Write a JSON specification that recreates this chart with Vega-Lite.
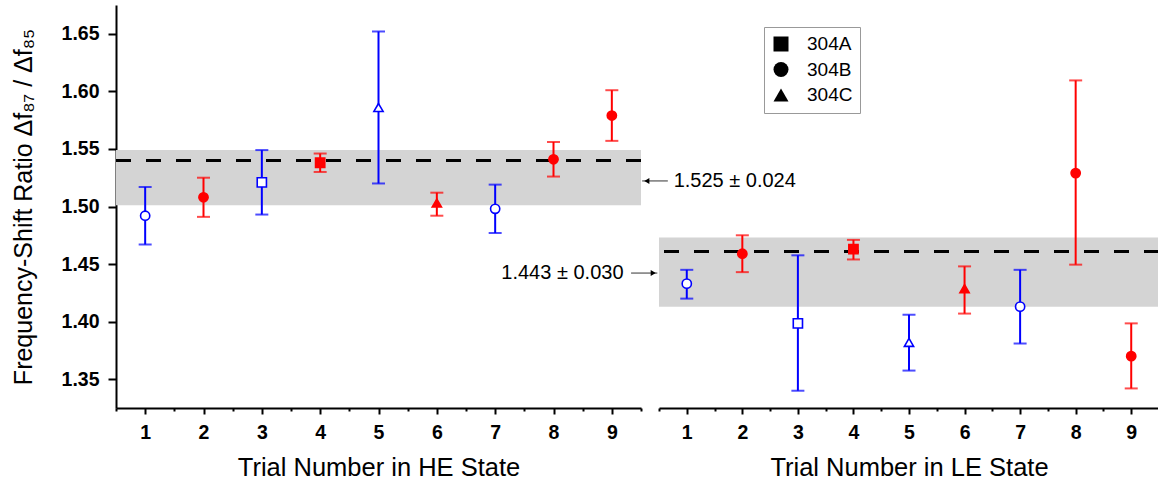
{
  "$schema": "https://vega.github.io/schema/vega-lite/v6.json",
  "padding": {"left": 11, "top": 5, "right": 0, "bottom": 0},
  "autosize": {"type": "pad"},
  "background": "white",
  "config": {
    "view": {"stroke": null},
    "font": "Liberation Sans",
    "axis": {
      "grid": false,
      "domainColor": "black",
      "domainWidth": 2,
      "tickColor": "black",
      "tickWidth": 2,
      "labelColor": "black",
      "labelFont": "Liberation Sans",
      "labelFontWeight": "bold",
      "labelFontSize": 19.5,
      "labelOverlap": false,
      "labelFlush": false,
      "titleColor": "black",
      "titleFont": "Liberation Sans",
      "titleFontWeight": "normal"
    }
  },
  "datasets": {
    "trials": [
      {"state": "HE", "trial": 1, "ratio": 1.492, "lo": 1.467, "hi": 1.517, "sample": "304B", "group": "G1"},
      {"state": "HE", "trial": 2, "ratio": 1.508, "lo": 1.491, "hi": 1.525, "sample": "304B", "group": "G2"},
      {"state": "HE", "trial": 3, "ratio": 1.521, "lo": 1.493, "hi": 1.549, "sample": "304A", "group": "G1"},
      {"state": "HE", "trial": 4, "ratio": 1.538, "lo": 1.530, "hi": 1.546, "sample": "304A", "group": "G2"},
      {"state": "HE", "trial": 5, "ratio": 1.586, "lo": 1.520, "hi": 1.652, "sample": "304C", "group": "G1"},
      {"state": "HE", "trial": 6, "ratio": 1.503, "lo": 1.492, "hi": 1.512, "sample": "304C", "group": "G2"},
      {"state": "HE", "trial": 7, "ratio": 1.498, "lo": 1.477, "hi": 1.519, "sample": "304B", "group": "G1"},
      {"state": "HE", "trial": 8, "ratio": 1.541, "lo": 1.526, "hi": 1.556, "sample": "304B", "group": "G2"},
      {"state": "HE", "trial": 9, "ratio": 1.579, "lo": 1.557, "hi": 1.601, "sample": "304B", "group": "G2"},
      {"state": "LE", "trial": 1, "ratio": 1.433, "lo": 1.420, "hi": 1.445, "sample": "304B", "group": "G1"},
      {"state": "LE", "trial": 2, "ratio": 1.459, "lo": 1.443, "hi": 1.475, "sample": "304B", "group": "G2"},
      {"state": "LE", "trial": 3, "ratio": 1.3985, "lo": 1.340, "hi": 1.4576, "sample": "304A", "group": "G1"},
      {"state": "LE", "trial": 4, "ratio": 1.463, "lo": 1.454, "hi": 1.471, "sample": "304A", "group": "G2"},
      {"state": "LE", "trial": 5, "ratio": 1.382, "lo": 1.3575, "hi": 1.406, "sample": "304C", "group": "G1"},
      {"state": "LE", "trial": 6, "ratio": 1.4286, "lo": 1.407, "hi": 1.448, "sample": "304C", "group": "G2"},
      {"state": "LE", "trial": 7, "ratio": 1.413, "lo": 1.381, "hi": 1.445, "sample": "304B", "group": "G1"},
      {"state": "LE", "trial": 8, "ratio": 1.529, "lo": 1.4495, "hi": 1.6095, "sample": "304B", "group": "G2"},
      {"state": "LE", "trial": 9, "ratio": 1.370, "lo": 1.342, "hi": 1.3985, "sample": "304B", "group": "G2"}
    ],
    "bands": [
      {"state": "HE", "lo": 1.501, "hi": 1.549, "ref": 1.540, "label": "1.525 ± 0.024"},
      {"state": "LE", "lo": 1.413, "hi": 1.473, "ref": 1.461, "label": "1.443 ± 0.030"}
    ]
  },
  "bounds": "flush",
  "spacing": 18,
  "resolve": {
    "scale": {"x": "independent", "y": "independent", "color": "independent", "fill": "independent", "stroke": "independent", "shape": "independent"},
    "legend": {"shape": "independent"}
  },
  "hconcat": [
    {
      "width": 525,
      "height": 403,
      "layer": [
        {
          "data": {"name": "bands"},
          "transform": [{"filter": "datum.state === 'HE'"}],
          "mark": {"type": "rect", "color": "#d4d4d4"},
          "encoding": {
            "y": {
              "field": "lo", "type": "quantitative",
              "scale": {"domain": [1.325, 1.675], "nice": false, "zero": false},
              "axis": {
                "values": [1.35, 1.375, 1.4, 1.425, 1.45, 1.475, 1.5, 1.525, 1.55, 1.575, 1.6, 1.625, 1.65],
                "labelExpr": "round(datum.value*1000) % 50 == 0 ? format(datum.value, '.2f') : ''",
                "tickSize": {"condition": {"test": "round(datum.value*1000) % 50 == 0", "value": 8}, "value": 4},
                "labelOverlap": false,
                "labelPadding": 9,
                "title": "Frequency-Shift Ratio  Δf₈₇ / Δf₈₅",
                "titleFontSize": 25,
                "titlePadding": 25
              }
            },
            "y2": {"field": "hi"}
          }
        },
        {
          "data": {"name": "bands"},
          "transform": [{"filter": "datum.state === 'HE'"}],
          "mark": {"type": "rule", "color": "black", "strokeWidth": 3, "strokeDash": [15, 15]},
          "encoding": {"y": {"field": "ref", "type": "quantitative"}}
        },
        {
          "data": {"name": "trials"},
          "transform": [{"filter": "datum.state === 'HE'"}],
          "encoding": {
            "x": {
              "field": "trial", "type": "quantitative",
              "scale": {"domain": [0.5, 9.5], "nice": false, "zero": false},
              "axis": {
                "values": [0.5, 1, 1.5, 2, 2.5, 3, 3.5, 4, 4.5, 5, 5.5, 6, 6.5, 7, 7.5, 8, 8.5, 9, 9.5],
                "labelExpr": "round(datum.value*10) % 10 == 0 ? format(datum.value, 'd') : ''",
                "tickSize": {"condition": {"test": "round(datum.value*10) % 10 == 0", "value": 6}, "value": 3},
                "labelOverlap": false,
                "labelFlush": false,
                "labelPadding": 9,
                "title": "Trial Number in HE State",
                "titleFontSize": 25.5,
                "titlePadding": 14
              }
            },
            "color": {"field": "group", "type": "nominal", "scale": {"domain": ["G1", "G2"], "range": ["#0000ff", "#ff0000"]}, "legend": null}
          },
          "layer": [
            {
              "mark": {"type": "rule", "strokeWidth": 2},
              "encoding": {
                "y": {"field": "lo", "type": "quantitative"},
                "y2": {"field": "hi"}
              }
            },
            {
              "mark": {"type": "tick", "orient": "horizontal", "size": 13, "thickness": 2},
              "encoding": {"y": {"field": "lo", "type": "quantitative"}}
            },
            {
              "mark": {"type": "tick", "orient": "horizontal", "size": 13, "thickness": 2},
              "encoding": {"y": {"field": "hi", "type": "quantitative"}}
            },
            {
              "mark": {"type": "point", "filled": true, "strokeWidth": 1.6, "opacity": 1, "size": 85},
              "encoding": {
                "y": {"field": "ratio", "type": "quantitative"},
                "shape": {"field": "sample", "type": "nominal", "scale": {"domain": ["304A", "304B", "304C"], "range": ["square", "circle", "triangle-up"]}, "legend": null},
                "fill": {"field": "group", "type": "nominal", "scale": {"domain": ["G1", "G2"], "range": ["#ffffff", "#ff0000"]}, "legend": null},
                "stroke": {"field": "group", "type": "nominal", "scale": {"domain": ["G1", "G2"], "range": ["#0000ff", "#ff0000"]}, "legend": null}
              }
            }
          ]
        },
        {
          "data": {"name": "bands"},
          "encoding": {
            "x": {
              "datum": 9.5, "type": "quantitative",
              "axis": {
                "values": [0.5, 1, 1.5, 2, 2.5, 3, 3.5, 4, 4.5, 5, 5.5, 6, 6.5, 7, 7.5, 8, 8.5, 9, 9.5],
                "labelExpr": "round(datum.value*10) % 10 == 0 ? format(datum.value, 'd') : ''",
                "tickSize": {"condition": {"test": "round(datum.value*10) % 10 == 0", "value": 6}, "value": 3},
                "labelOverlap": false,
                "labelFlush": false,
                "labelPadding": 9,
                "title": "Trial Number in HE State",
                "titleFontSize": 25.5,
                "titlePadding": 14
              }
            }
          },
          "layer": [
            {
              "transform": [{"filter": "datum.state === 'HE'"}],
              "mark": {"type": "rule", "color": "#333333", "strokeWidth": 1},
              "encoding": {"x": {"datum": 9.52}, "x2": {"datum": 9.96}, "y": {"datum": 1.5222, "type": "quantitative"}}
            },
            {
              "transform": [{"filter": "datum.state === 'HE'"}],
              "mark": {"type": "point", "shape": "triangle-left", "filled": true, "color": "black", "size": 35, "opacity": 1},
              "encoding": {"x": {"datum": 9.6}, "y": {"datum": 1.5222, "type": "quantitative"}}
            },
            {
              "transform": [{"filter": "datum.state === 'HE'"}],
              "mark": {"type": "text", "align": "left", "baseline": "middle", "fontSize": 20, "font": "Liberation Sans", "color": "black"},
              "encoding": {"x": {"datum": 10.06}, "y": {"datum": 1.5222, "type": "quantitative"}, "text": {"field": "label"}}
            },
            {
              "transform": [{"filter": "datum.state === 'LE'"}],
              "mark": {"type": "rule", "color": "#333333", "strokeWidth": 1},
              "encoding": {"x": {"datum": 9.33}, "x2": {"datum": 9.78}, "y": {"datum": 1.4422, "type": "quantitative"}}
            },
            {
              "transform": [{"filter": "datum.state === 'LE'"}],
              "mark": {"type": "point", "shape": "triangle-right", "filled": true, "color": "black", "size": 35, "opacity": 1},
              "encoding": {"x": {"datum": 9.71}, "y": {"datum": 1.4422, "type": "quantitative"}}
            },
            {
              "transform": [{"filter": "datum.state === 'LE'"}],
              "mark": {"type": "text", "align": "right", "baseline": "middle", "fontSize": 20, "font": "Liberation Sans", "color": "black"},
              "encoding": {"x": {"datum": 9.2}, "y": {"datum": 1.4426, "type": "quantitative"}, "text": {"field": "label"}}
            }
          ]
        }
      ]
    },
    {
      "width": 500,
      "height": 403,
      "layer": [
        {
          "data": {"name": "bands"},
          "transform": [{"filter": "datum.state === 'LE'"}],
          "mark": {"type": "rect", "color": "#d4d4d4"},
          "encoding": {
            "y": {"field": "lo", "type": "quantitative", "scale": {"domain": [1.325, 1.675], "nice": false, "zero": false}, "axis": null},
            "y2": {"field": "hi"}
          }
        },
        {
          "data": {"name": "bands"},
          "transform": [{"filter": "datum.state === 'LE'"}],
          "mark": {"type": "rule", "color": "black", "strokeWidth": 3, "strokeDash": [15, 15]},
          "encoding": {"y": {"field": "ref", "type": "quantitative", "axis": null}}
        },
        {
          "data": {"name": "trials"},
          "transform": [{"filter": "datum.state === 'LE'"}],
          "encoding": {
            "x": {
              "field": "trial", "type": "quantitative",
              "scale": {"domain": [0.5, 9.5], "nice": false, "zero": false},
              "axis": {
                "values": [0.5, 1, 1.5, 2, 2.5, 3, 3.5, 4, 4.5, 5, 5.5, 6, 6.5, 7, 7.5, 8, 8.5, 9, 9.5],
                "labelExpr": "round(datum.value*10) % 10 == 0 ? format(datum.value, 'd') : ''",
                "tickSize": {"condition": {"test": "round(datum.value*10) % 10 == 0", "value": 6}, "value": 3},
                "labelOverlap": false,
                "labelFlush": false,
                "labelPadding": 9,
                "title": "Trial Number in LE State",
                "titleFontSize": 25.5,
                "titlePadding": 14
              }
            },
            "color": {"field": "group", "type": "nominal", "scale": {"domain": ["G1", "G2"], "range": ["#0000ff", "#ff0000"]}, "legend": null}
          },
          "layer": [
            {
              "mark": {"type": "rule", "strokeWidth": 2},
              "encoding": {
                "y": {"field": "lo", "type": "quantitative", "axis": null},
                "y2": {"field": "hi"}
              }
            },
            {
              "mark": {"type": "tick", "orient": "horizontal", "size": 13, "thickness": 2},
              "encoding": {"y": {"field": "lo", "type": "quantitative", "axis": null}}
            },
            {
              "mark": {"type": "tick", "orient": "horizontal", "size": 13, "thickness": 2},
              "encoding": {"y": {"field": "hi", "type": "quantitative", "axis": null}}
            },
            {
              "mark": {"type": "point", "filled": true, "strokeWidth": 1.6, "opacity": 1, "size": 85},
              "encoding": {
                "y": {"field": "ratio", "type": "quantitative", "axis": null},
                "shape": {
                  "field": "sample", "type": "nominal",
                  "scale": {"domain": ["304A", "304B", "304C"], "range": ["square", "circle", "triangle-up"]},
                  "legend": {
                    "title": null,
                    "orient": "none",
                    "legendX": 105,
                    "legendY": 22,
                    "strokeColor": "#999999",
                    "fillColor": "white",
                    "padding": 7.5,
                    "symbolSize": 225,
                    "symbolFillColor": "black",
                    "symbolStrokeColor": "black",
                    "symbolStrokeWidth": 0,
                    "labelFont": "Liberation Sans",
                    "labelFontSize": 19,
                    "labelColor": "black",
                    "labelOffset": 16.5,
                    "rowPadding": 5.5
                  }
                },
                "fill": {"field": "group", "type": "nominal", "scale": {"domain": ["G1", "G2"], "range": ["#ffffff", "#ff0000"]}, "legend": null},
                "stroke": {"field": "group", "type": "nominal", "scale": {"domain": ["G1", "G2"], "range": ["#0000ff", "#ff0000"]}, "legend": null}
              }
            }
          ]
        }
      ]
    }
  ]
}
